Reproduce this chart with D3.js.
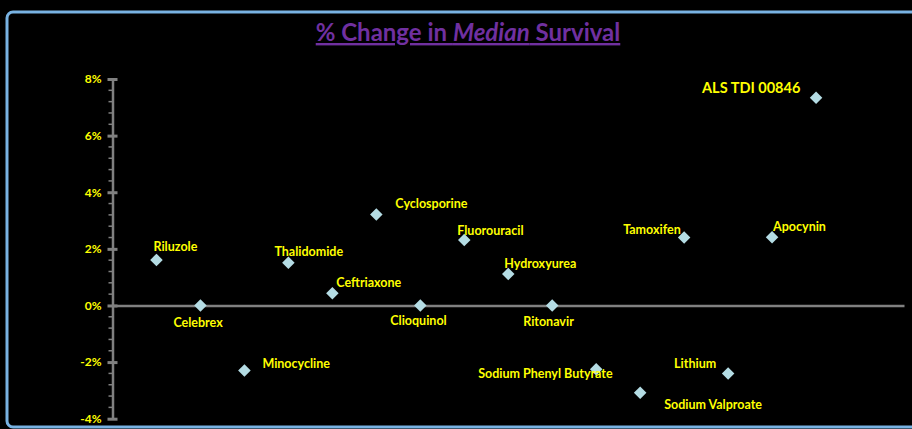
<!DOCTYPE html>
<html><head><meta charset="utf-8">
<script src="https://cdn.jsdelivr.net/npm/d3@7"></script>
<style>
html,body{margin:0;padding:0;background:#000;}
svg{display:block;}
</style></head>
<body>
<script>
const drugs = ["Riluzole","Celebrex","Minocycline","Thalidomide","Ceftriaxone","Cyclosporine","Clioquinol","Fluorouracil","Hydroxyurea","Ritonavir","Sodium Phenyl Butyrate","Sodium Valproate","Tamoxifen","Lithium","Apocynin","ALS TDI 00846"];
const changePct = [1.61,0,-2.30,1.51,0.43,3.21,0,2.31,1.11,0,-2.25,-3.08,2.40,-2.40,2.41,7.34];
const yTicks = [-4,-2,0,2,4,6,8];
const yTickLabels = ["-4%","-2%","0%","2%","4%","6%","8%"];
// label placement offsets (dx, dy) relative to each marker
const labelDx = [-3,-27,18,-14,4,19,-30,-7,-4,-29,-118,24,-61,-54,1,-114];
const labelDy = [-9,22,-3,-7,-6,-7,20,-5,-6,21,9,16,-4,-5,-6,-5];

const W = 912, H = 429;
const svg = d3.select("body").append("svg").attr("width", W).attr("height", H);
svg.append("rect").attr("width", W).attr("height", H).attr("fill", "#000");

// chart border
svg.append("rect").attr("x", 7).attr("y", 12).attr("width", 940).attr("height", 415)
  .attr("rx", 6).attr("fill", "#000").attr("stroke", "#78B2E2").attr("stroke-width", 3);

// title
svg.append("text").attr("x", 468).attr("y", 41).attr("text-anchor", "middle")
  .attr("fill", "#7030A0").attr("font-family", "Lato, 'Open Sans', sans-serif")
  .attr("font-weight", "bold").attr("font-size", 24)
  .attr("text-decoration", "underline")
  .call(t => {
    t.append("tspan").text("% Change in ");
    t.append("tspan").attr("font-style", "italic").text("Median");
    t.append("tspan").text(" Survival");
  });

const x = d3.scaleLinear().domain([0, 18]).range([112.5, 904]);
const y = d3.scaleLinear().domain([-4, 8]).range([418.7, 79]);

// minor ticks
const minor = d3.range(-4, 8.001, 0.4).filter(v => Math.abs(v/2 - Math.round(v/2)) > 1e-6);
svg.append("g").selectAll("line").data(minor).join("line")
  .attr("x1", x(0) - 4).attr("x2", x(0)).attr("y1", d => y(d)).attr("y2", d => y(d))
  .attr("stroke", "#808080").attr("stroke-width", 1.5);

// y axis
const yAxis = d3.axisLeft(y).tickValues(yTicks).tickFormat((d, i) => yTickLabels[i])
  .tickSizeInner(5).tickSizeOuter(0).tickPadding(8);
const gy = svg.append("g").attr("transform", `translate(${x(0)},0)`).call(yAxis);
gy.select(".domain").attr("stroke", "#808080").attr("stroke-width", 2.5);
gy.selectAll(".tick line").attr("stroke", "#808080").attr("stroke-width", 3).attr("x2", 5).attr("x1", -5);
gy.selectAll(".tick text").attr("fill", "#FFFF00").attr("font-family", "Lato, sans-serif")
  .attr("font-weight", "bold").attr("font-size", 12).attr("x", -11);

// zero line (x axis)
const xAxis = d3.axisBottom(x).tickValues([]).tickSizeOuter(0);
const gx = svg.append("g").attr("transform", `translate(0,${y(0)})`).call(xAxis);
gx.select(".domain").attr("stroke", "#808080").attr("stroke-width", 2.5);

// markers
const pts = drugs.map((d, i) => ({name: d, v: changePct[i], i}));
svg.append("g").selectAll("path").data(pts).join("path")
  .attr("d", d3.symbol(d3.symbolDiamond2, 100))
  .attr("transform", d => `translate(${x(d.i + 1)},${y(d.v)})`)
  .attr("fill", "#B4DCE4");

// labels
svg.append("g").selectAll("text").data(pts).join("text")
  .attr("x", d => x(d.i + 1) + labelDx[d.i])
  .attr("y", d => y(d.v) + labelDy[d.i])
  .attr("fill", "#FFFF00").attr("font-family", "Lato, sans-serif").attr("font-weight", "bold")
  .attr("font-size", d => d.i === 15 ? 14.5 : 12.5)
  .text(d => d.name);
</script>
</body></html>
